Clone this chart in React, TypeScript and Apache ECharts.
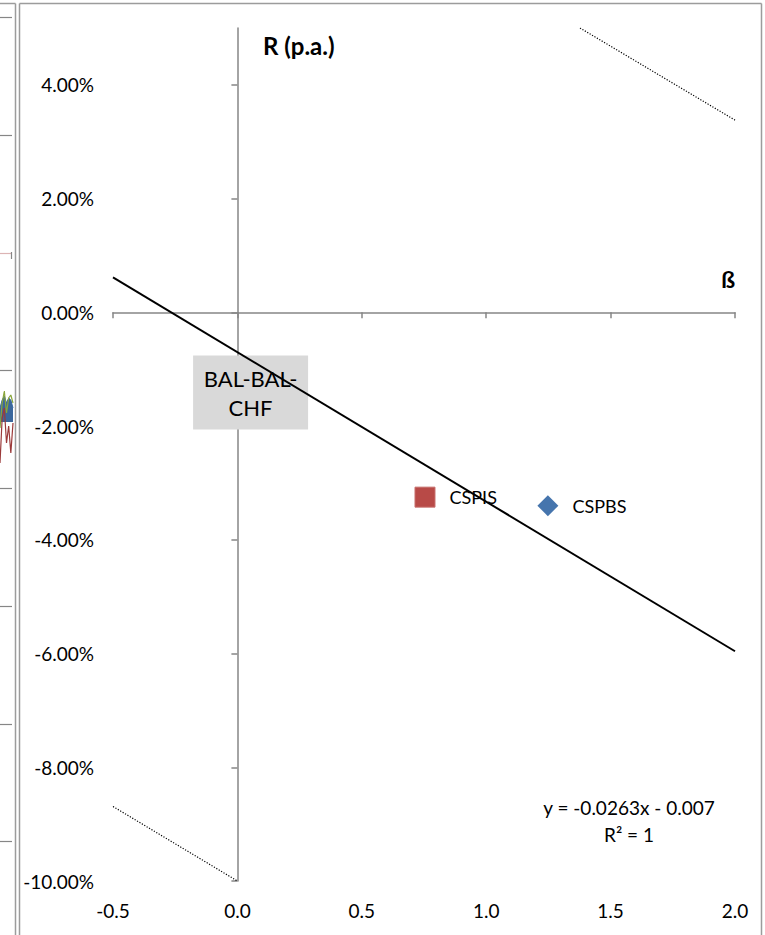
import React, { useEffect, useRef } from "react";
import * as echarts from "echarts";

// ---- data ----
const betaMin = -0.5;
const betaMax = 2.0;
const betaStep = 0.5;
const returnTicks = [-0.1, -0.08, -0.06, -0.04, -0.02, 0, 0.02, 0.04];
const returnMin = -0.1;
const returnMax = 0.05;

// linear trend line y = -0.0263x - 0.007, endpoints
const trendLine = [
  [-0.5, 0.00615],
  [2.0, -0.0596],
];
// dotted guide lines
const upperGuide = [
  [1.377, 0.05],
  [2.0, 0.0338],
];
const lowerGuide = [
  [-0.5, -0.0869],
  [0.0, -0.1],
];
const cspisPoint = [[0.754, -0.0325]];
const cspbsPoint = [[1.248, -0.034]];
const benchmarkPoint = [[0.053, -0.0141]];
const benchmarkName = "BAL-BAL-\nCHF";
const equationLines = ["y = -0.0263x - 0.007", "R² = 1"];
const yAxisTitle = "R (p.a.)";
const xAxisTitle = "ß";

// neighbouring chart fragment (left edge)
const fragCats = ["1", "2", "3", "4", "5", "6", "7"];
const fragGreen = [-0.02, -0.01375, -0.01075, -0.01625, -0.0125, -0.01175, -0.01375];
const fragRed = [-0.02875, -0.0175, -0.015, -0.02375, -0.0195, -0.02625, -0.01875];
const fragBlue = [-0.015, -0.013, -0.012, -0.01375, -0.0125, -0.013, -0.015];

const FONT = "Lato, 'Liberation Sans', sans-serif";
const AX = "#868686";
const FRAME = "#9c9c9c";

export default function App() {
  const ref = useRef<HTMLDivElement>(null);

  useEffect(() => {
    document.body.style.margin = "0";
    const chart = echarts.init(ref.current!, undefined, { renderer: "svg" });

    const leftTicks = [17, 135, 370, 488, 606, 724, 841];
    const graphic: any[] = [
      // frames
      { type: "line", shape: { x1: 19.5, y1: 3.5, x2: 761.5, y2: 3.5 }, style: { stroke: FRAME, lineWidth: 1.5 } },
      { type: "line", shape: { x1: 761.5, y1: 3.5, x2: 761.5, y2: 935 }, style: { stroke: FRAME, lineWidth: 1.5 } },
      { type: "line", shape: { x1: 19.5, y1: 3.5, x2: 19.5, y2: 935 }, style: { stroke: FRAME, lineWidth: 1.5 } },
      { type: "line", shape: { x1: 15.5, y1: 3.5, x2: 15.5, y2: 935 }, style: { stroke: FRAME, lineWidth: 1.5 } },
      { type: "line", shape: { x1: 0, y1: 3.5, x2: 15.5, y2: 3.5 }, style: { stroke: FRAME, lineWidth: 1.5 } },
      ...leftTicks.map((y) => ({
        type: "line",
        shape: { x1: 0, y1: y + 0.5, x2: 12, y2: y + 0.5 },
        style: { stroke: AX, lineWidth: 1.2 },
      })),
      { type: "line", shape: { x1: 0, y1: 253.5, x2: 11, y2: 253.5 }, style: { stroke: "#dcb4b4", lineWidth: 1.2 } },
      { type: "line", shape: { x1: 11.5, y1: 252, x2: 11.5, y2: 259 }, style: { stroke: AX, lineWidth: 1.2 } },
      // axis titles
      {
        type: "text",
        x: 263,
        y: 45,
        style: { text: yAxisTitle, font: `bold 24px ${FONT}`, fill: "#000", textVerticalAlign: "middle" },
      },
      {
        type: "text",
        x: 735,
        y: 279,
        style: { text: xAxisTitle, font: `bold 23px ${FONT}`, fill: "#000", textAlign: "right", textVerticalAlign: "middle" },
      },
      // trend line equation
      ...equationLines.map((t, i) => ({
        type: "text",
        x: 629,
        y: 807 + i * 27,
        style: { text: t, font: `19px ${FONT}`, fill: "#000", textAlign: "center", textVerticalAlign: "middle" },
      })),
    ];

    const option: any = {
      animation: false,
      backgroundColor: "#fff",
      textStyle: { fontFamily: FONT },
      grid: [
        { left: 113, top: 28, width: 622, height: 853 },
        { left: 0, top: 388, width: 13, height: 80 },
      ],
      xAxis: [
        {
          gridIndex: 0,
          type: "value",
          min: betaMin,
          max: betaMax,
          interval: betaStep,
          position: "bottom",
          axisLine: { show: true, onZero: true, onZeroAxisIndex: 0, lineStyle: { color: AX, width: 1.5 } },
          axisTick: { show: true, length: 6, lineStyle: { color: AX, width: 1.5 } },
          axisLabel: { show: false },
          splitLine: { show: false },
        },
        {
          gridIndex: 0,
          type: "value",
          min: betaMin,
          max: betaMax,
          interval: betaStep,
          position: "bottom",
          axisLine: { show: false, onZero: false },
          axisTick: { show: false },
          axisLabel: {
            show: true,
            margin: 20,
            fontSize: 19,
            color: "#000",
            fontFamily: FONT,
            formatter: (v: number) => v.toFixed(1),
          },
          splitLine: { show: false },
        },
        { gridIndex: 1, type: "category", data: fragCats, boundaryGap: false, show: false },
      ],
      yAxis: [
        {
          gridIndex: 0,
          type: "value",
          min: returnMin,
          max: returnMax,
          position: "left",
          axisLine: { show: true, onZero: true, onZeroAxisIndex: 0, lineStyle: { color: AX, width: 1.5 } },
          axisTick: { show: true, length: 6, customValues: returnTicks, lineStyle: { color: AX, width: 1.5 } },
          axisLabel: { show: false },
          splitLine: { show: false },
        },
        {
          gridIndex: 0,
          type: "value",
          min: returnMin,
          max: returnMax,
          position: "left",
          axisLine: { show: false, onZero: false },
          axisTick: { show: false },
          axisLabel: {
            show: true,
            margin: 19,
            fontSize: 19,
            color: "#000",
            fontFamily: FONT,
            customValues: returnTicks,
            formatter: (v: number) => (v * 100).toFixed(2) + "%",
          },
          splitLine: { show: false },
        },
        { gridIndex: 1, type: "value", min: -0.03, max: -0.01, show: false },
      ],
      graphic,
      series: [
        {
          type: "line",
          xAxisIndex: 0,
          yAxisIndex: 0,
          data: upperGuide,
          symbol: "none",
          z: 4,
          lineStyle: { color: "#000", width: 1.2, type: [1.2, 1.6] },
        },
        {
          type: "line",
          xAxisIndex: 0,
          yAxisIndex: 0,
          data: lowerGuide,
          symbol: "none",
          z: 4,
          lineStyle: { color: "#000", width: 1.2, type: [1.2, 1.6] },
        },
        {
          type: "scatter",
          name: "BAL-BAL-CHF",
          xAxisIndex: 0,
          yAxisIndex: 0,
          data: benchmarkPoint,
          symbol: "circle",
          symbolSize: 1,
          z: 2,
          itemStyle: { color: "rgba(0,0,0,0)", opacity: 1 },
          label: {
            show: true,
            position: "inside",
            formatter: benchmarkName,
            backgroundColor: "#d9d9d9",
            padding: [8, 8, 8, 8],
            fontSize: 22,
            lineHeight: 29,
            width: 99,
            align: "center",
            color: "#000",
            opacity: 1,
            fontFamily: FONT,
          },
        },
        {
          type: "scatter",
          name: "CSPIS",
          xAxisIndex: 0,
          yAxisIndex: 0,
          data: cspisPoint,
          symbol: "rect",
          symbolSize: 20,
          z: 2,
          itemStyle: { color: "#B84A47", borderColor: "#c8706e", borderWidth: 1, opacity: 1 },
          label: {
            show: true,
            position: "right",
            distance: 14,
            formatter: "CSPIS",
            fontSize: 18,
            color: "#000",
            fontFamily: FONT,
          },
        },
        {
          type: "scatter",
          name: "CSPBS",
          xAxisIndex: 0,
          yAxisIndex: 0,
          data: cspbsPoint,
          symbol: "diamond",
          symbolSize: [21, 21],
          z: 2,
          itemStyle: { color: "#4675AD", opacity: 1 },
          label: {
            show: true,
            position: "right",
            distance: 14,
            formatter: "CSPBS",
            fontSize: 18,
            color: "#000",
            fontFamily: FONT,
          },
        },
        {
          type: "line",
          name: "trend",
          xAxisIndex: 0,
          yAxisIndex: 0,
          data: trendLine,
          symbol: "none",
          z: 6,
          lineStyle: { color: "#000", width: 2 },
        },
        // fragment of the neighbouring chart
        {
          type: "line",
          xAxisIndex: 2,
          yAxisIndex: 2,
          data: fragBlue,
          symbol: "none",
          lineStyle: { color: "#3b679c", width: 1 },
          areaStyle: { color: "#3b679c", opacity: 1, origin: -0.0185 },
        },
        {
          type: "line",
          xAxisIndex: 2,
          yAxisIndex: 2,
          data: fragGreen,
          symbol: "none",
          lineStyle: { color: "#8aa63c", width: 1.2 },
        },
        {
          type: "line",
          xAxisIndex: 2,
          yAxisIndex: 2,
          data: fragRed,
          symbol: "none",
          lineStyle: { color: "#9b3a3a", width: 1.2 },
        },
      ],
    };

    chart.setOption(option);
    return () => chart.dispose();
  }, []);

  return (
    <div
      ref={ref}
      style={{ position: "absolute", left: 0, top: 0, width: 765, height: 935 }}
    />
  );
}
